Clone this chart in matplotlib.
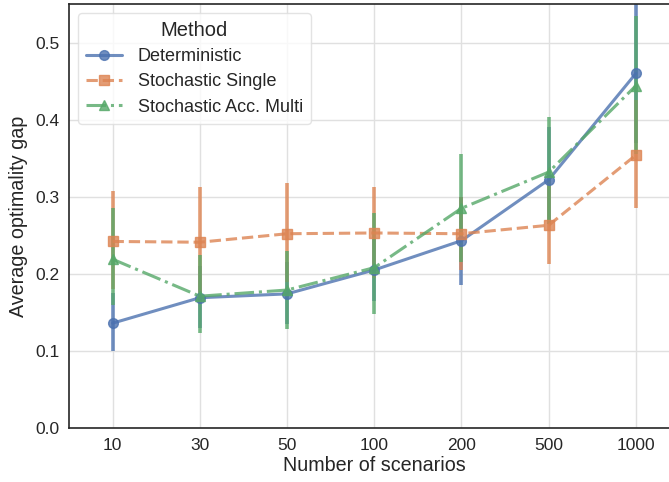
import numpy as np
import matplotlib
matplotlib.use("Agg")
import matplotlib.pyplot as plt
import seaborn as sns

scenarios = ["10", "30", "50", "100", "200", "500", "1000"]
methods = ["Deterministic", "Stochastic Single", "Stochastic Acc. Multi"]

det_mean = [0.136, 0.169, 0.174, 0.205, 0.243, 0.322, 0.460]
det_lo = [0.100, 0.130, 0.135, 0.165, 0.185, 0.265, 0.370]
det_hi = [0.175, 0.210, 0.215, 0.245, 0.300, 0.390, 0.570]

single_mean = [0.242, 0.241, 0.252, 0.253, 0.252, 0.263, 0.354]
single_lo = [0.180, 0.175, 0.190, 0.195, 0.205, 0.213, 0.285]
single_hi = [0.308, 0.312, 0.318, 0.313, 0.300, 0.320, 0.425]

multi_mean = [0.219, 0.171, 0.179, 0.208, 0.285, 0.332, 0.444]
multi_lo = [0.159, 0.123, 0.129, 0.148, 0.215, 0.265, 0.356]
multi_hi = [0.285, 0.224, 0.229, 0.279, 0.355, 0.403, 0.534]

sns.set_theme(style="whitegrid")
plt.rcParams["font.family"] = ["Liberation Sans", "DejaVu Sans"]

pal = sns.color_palette("deep")
styles = [
    (det_mean, det_lo, det_hi, pal[0], "o", "-", 7),
    (single_mean, single_lo, single_hi, pal[1], "s", (0, (3.7, 1.6)), 7),
    (multi_mean, multi_lo, multi_hi, pal[2], "^", (0, (6.4, 1.6, 1, 1.6)), 7.5),
]

fig = plt.figure(figsize=(6.69, 4.82), dpi=100)
ax = fig.add_axes([0.1031, 0.112, 0.9126, 0.8797])
x = np.arange(len(scenarios))

for name, (m, lo, hi, col, mk, ls, ms) in zip(methods, styles):
    ax.vlines(x, lo, hi, color=col, lw=2.6, alpha=0.8, zorder=2)
    ax.plot(x, m, color=col, marker=mk, ls=ls, lw=2.2, ms=ms, alpha=0.8,
            label=name, zorder=3)

ax.set_xticks(x)
ax.set_xticklabels(scenarios)
ax.set_xlim(-0.5, 6.5)
ax.set_ylim(0, 0.55)
ax.set_yticks([0.0, 0.1, 0.2, 0.3, 0.4, 0.5])
ax.tick_params(labelsize=12.5, colors="#262626", length=0)
ax.tick_params(axis="y", pad=7)
ax.tick_params(axis="x", pad=7)
ax.set_xlabel("Number of scenarios", fontsize=14.2, color="#262626", labelpad=2)
ax.set_ylabel("Average optimality gap", fontsize=14.2, color="#262626", labelpad=5)
ax.grid(True, color="#e0e0e0", lw=1)
for side in ["left", "bottom", "top"]:
    ax.spines[side].set_color("#262626")
    ax.spines[side].set_linewidth(1.2)

leg = ax.legend(title="Method", loc="upper left", fontsize=13, title_fontsize=14.5,
                handlelength=2.0, borderpad=0.45, labelspacing=0.45,
                handletextpad=0.85)
leg.get_frame().set_edgecolor("#dddddd")

fig.savefig("out.png", dpi=100)
